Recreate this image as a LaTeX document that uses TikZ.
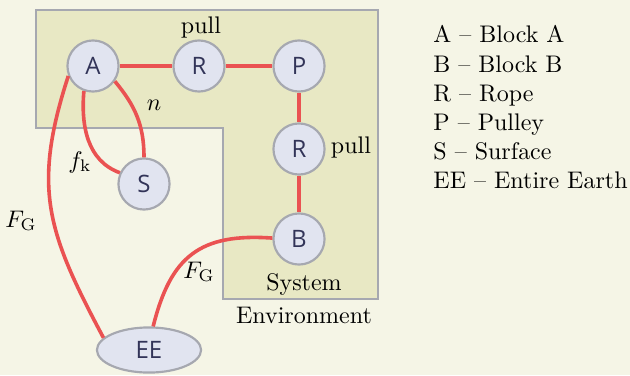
\documentclass[tikz,border=0pt]{standalone}
\usepackage{fontspec}
\newfontfamily\partfont{Open Sans}
\usetikzlibrary{shapes.geometric}
\definecolor{paper}{RGB}{245,245,230}
\definecolor{sysfill}{RGB}{232,232,196}
\definecolor{edgegray}{RGB}{166,168,176}
\definecolor{partfill}{RGB}{225,228,240}
\definecolor{parttext}{RGB}{50,52,88}
\definecolor{forcered}{RGB}{234,82,82}
\begin{document}
\begin{tikzpicture}[x=0.4167pt,y=-0.4167pt,
  part/.style={circle, fill=partfill, draw=edgegray, line width=0.9pt, minimum size=21.3pt, inner sep=0pt, text=parttext, font=\partfont\normalsize},
  earth/.style={ellipse, fill=partfill, draw=edgegray, line width=0.9pt, minimum width=43.4pt, minimum height=18.8pt, inner sep=0pt, text=parttext, font=\partfont\normalsize},
  force/.style={draw=forcered, line width=1.5pt},
  tag/.style={anchor=base, inner sep=0pt}]
\useasboundingbox [fill=paper] (0,0) rectangle (630,375);
% system region
\draw [fill=sysfill, draw=edgegray, line width=0.9pt] (36,10) -- (378,10) -- (378,299) -- (223,299) -- (223,128) -- (36,128) -- cycle;
% parts
\node [part] (A) at (93,66) {A};
\node [part] (R1) at (199,66) {R};
\node [part] (P) at (299,66) {P};
\node [part] (R2) at (299,149) {R};
\node [part] (S) at (144,184) {S};
\node [part] (B) at (299,239) {B};
\node [earth] (EE) at (149,350) {EE};
% interactions
\draw [force] (A) -- (R1);
\draw [force] (R1) -- (P);
\draw [force] (P) -- (R2);
\draw [force] (R2) -- (B);
\draw [force] (A.-110) to[out=-95, in=160] (S.155);
\draw [force] (A.-35) to[out=-50, in=90] (S.north);
\draw [force] (A.-158) to[out=-108, in=118, looseness=1.15] (EE.165);
\draw [force] (B.178) to[out=176, in=76, looseness=1.25] (EE.80);
% labels
\node [tag] (pullA) at (201,33) {pull};
\node [tag] (pullB) at (351,153) {pull};
\node [tag] (normal) at (154,110) {$n$};
\node [tag] (friction) at (80,168) {$f_{\mathrm{k}}$};
\node [tag] (gravA) at (21,227) {$F_{\mathrm{G}}$};
\node [tag] (gravB) at (199,278) {$F_{\mathrm{G}}$};
\node [tag] (system) at (304,290) {System};
\node [tag] (environment) at (304,323) {Environment};
% legend
\foreach \key/\name [count=\i from 0] in {A/Block A, B/Block B, R/Rope, P/Pulley, S/Surface, EE/Entire Earth}
  \node [anchor=base west, inner sep=0pt] (legend\i) at (433,43+29*\i) {\key{} -- \name};
\end{tikzpicture}
\end{document}
